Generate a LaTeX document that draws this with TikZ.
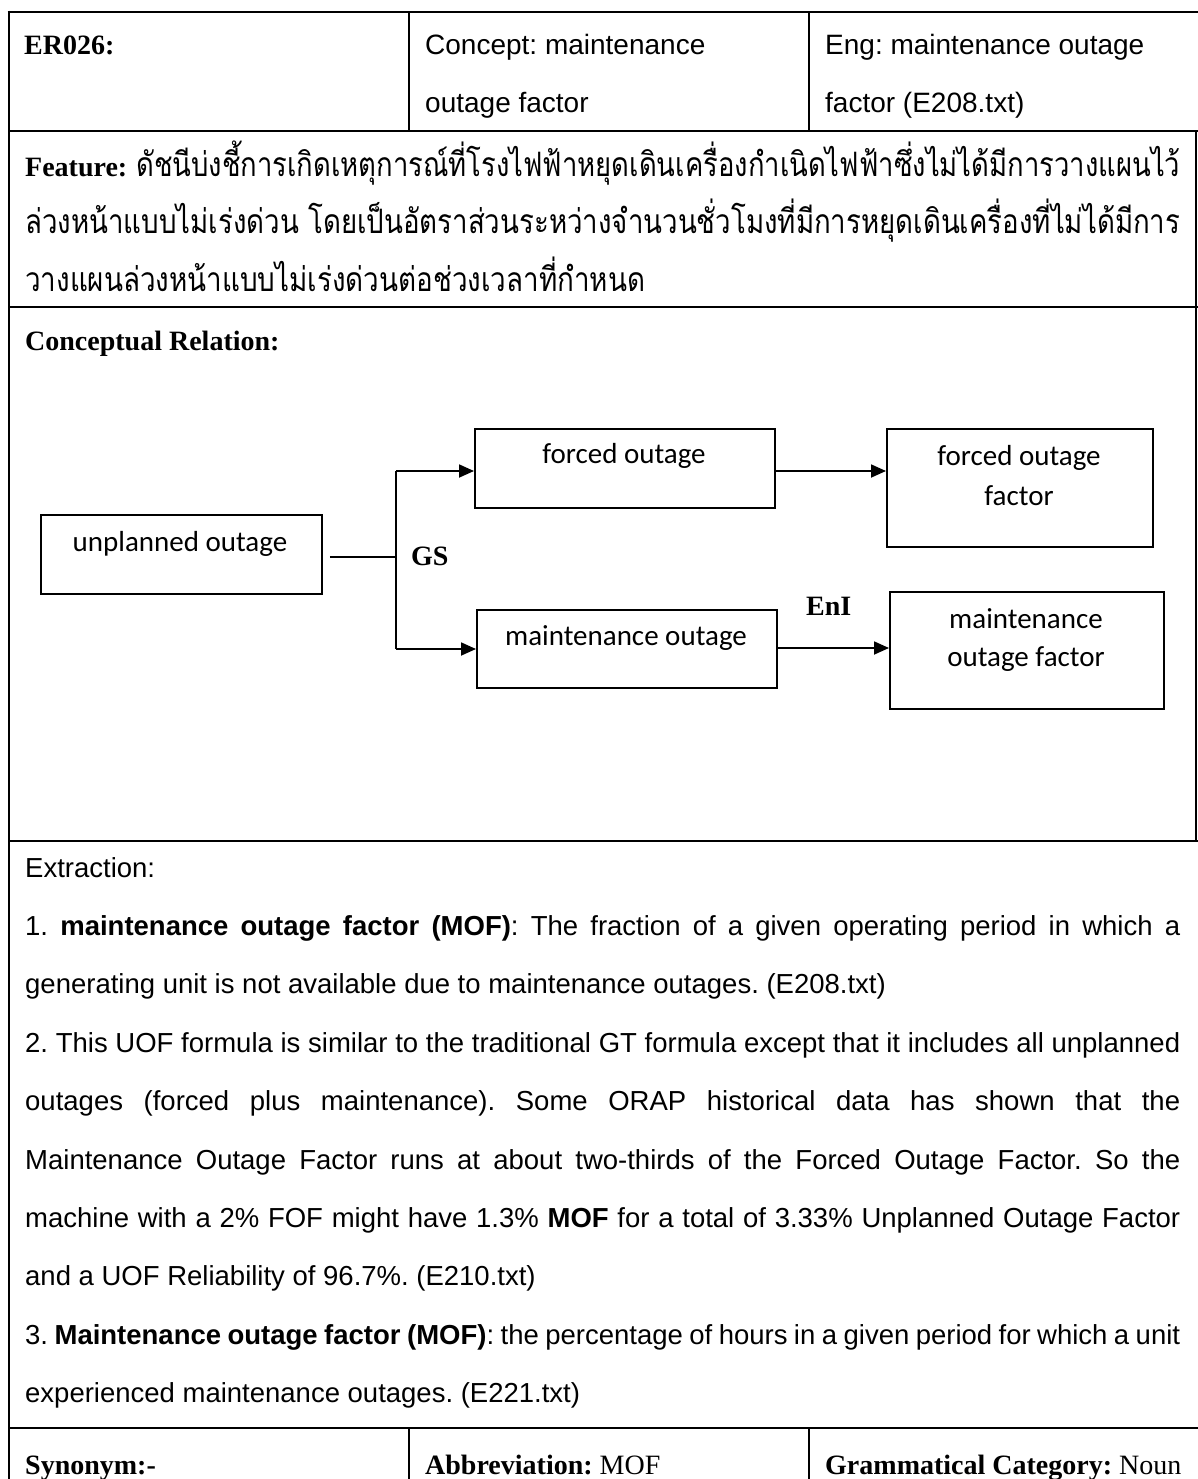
\documentclass[tikz,border=0pt]{standalone}
\usepackage{fontspec}
\usepackage{graphicx}
\usetikzlibrary{arrows.meta,calc}
\setmainfont{Liberation Serif}
\newfontfamily\arialfont{Liberation Sans}
\newfontfamily\calfont{Carlito}
\newfontfamily\thaifont[Script=Thai]{Loma}
\frenchspacing

\begin{document}
\begin{tikzpicture}[x=1pt,y=-1pt,
  rule/.style={line width=2.6pt},
  colrule/.style={line width=2pt},
  hdr/.style={anchor=base west, inner sep=0pt, font=\fontsize{28}{34}\selectfont\bfseries},
  body/.style={anchor=base west, inner sep=0pt, font=\arialfont\fontsize{27.5}{34}\selectfont},
  head/.style={anchor=base west, inner sep=0pt, font=\arialfont\fontsize{28}{34}\selectfont},
  thai/.style={anchor=base west, inner sep=0pt, font=\thaifont\fontsize{30}{36}\selectfont},
  cbox/.style={draw, line width=1.8pt, anchor=north west, inner sep=0pt},
  ctext/.style={anchor=base, inner sep=0pt, font=\calfont\fontsize{29}{34}\selectfont},
  link/.style={line width=1.8pt},
  arr/.style={link, -{Triangle[length=15pt,width=13pt]}},
  rel/.style={anchor=base west, inner sep=0pt, font=\fontsize{28}{34}\selectfont\bfseries}
]
\useasboundingbox (0,0) rectangle (1198,1479);

% table rules
\draw[rule] (7.7,12) -- (1198,12);
\draw[rule] (9,10.7) -- (9,1479);
\draw[rule] (9,131) -- (1198,131);
\draw[rule] (9,307) -- (1198,307);
\draw[rule] (9,841) -- (1198,841);
\draw[rule] (9,1428) -- (1198,1428);
\draw[rule] (1196,131) -- (1196,841);
\draw[colrule] (409,12) -- (409,131);
\draw[colrule] (809,12) -- (809,131);
\draw[colrule] (409,1428) -- (409,1479);
\draw[colrule] (809,1428) -- (809,1479);

% header row
\node[hdr] (id) at (24,55) {ER026:};
\node[head] (concept1) at (425,55) {Concept: maintenance};
\node[head] (concept2) at (425,113) {outage factor};
\node[head] (eng1) at (825,55) {Eng: maintenance outage};
\node[head] (eng2) at (825,113) {factor (E208.txt)};

% feature row
\node[hdr] (feat) at (25,177) {Feature:};
\node[thai] (th1) at (136,177) {\resizebox{1044pt}{1.12\height}{ดัชนีบ่งชี้การเกิดเหตุการณ์ที่โรงไฟฟ้าหยุดเดินเครื่องกำเนิดไฟฟ้าซึ่งไม่ได้มีการวางแผนไว้}};
\node[thai] (th2) at (25,234) {\resizebox{1155pt}{1.12\height}{ล่วงหน้าแบบไม่เร่งด่วน โดยเป็นอัตราส่วนระหว่างจำนวนชั่วโมงที่มีการหยุดเดินเครื่องที่ไม่ได้มีการ}};
\node[thai] (th3) at (25,291) {\resizebox{620pt}{1.12\height}{วางแผนล่วงหน้าแบบไม่เร่งด่วนต่อช่วงเวลาที่กำหนด}};

% conceptual relation diagram
\node[hdr] (crel) at (25,350) {Conceptual Relation:};

\node[cbox, minimum width=281pt, minimum height=79pt] (uo) at (40,514) {};
\node[cbox, minimum width=300pt, minimum height=79pt] (fo) at (474,428) {};
\node[cbox, minimum width=300pt, minimum height=78pt] (mo) at (476,609) {};
\node[cbox, minimum width=266pt, minimum height=118pt] (fof) at (886,428) {};
\node[cbox, minimum width=274pt, minimum height=117pt] (mof) at (889,591) {};

\node[ctext] (uot) at (180,551) {unplanned outage};
\node[ctext] (fot) at (624,463) {forced outage};
\node[ctext] (mot) at (626,645) {maintenance outage};
\node[ctext] (foft1) at (1019,465) {forced outage};
\node[ctext] (foft2) at (1019,505) {factor};
\node[ctext] (moft1) at (1026,628) {maintenance};
\node[ctext] (moft2) at (1026,666) {outage factor};

\coordinate (j) at (396,557);
\coordinate (jt) at (396,471);
\coordinate (jb) at (396,649);
\draw[link] ([xshift=7pt]j -| uo.east) -- (j);
\draw[link] (jt) -- (jb);
\draw[arr] (jt) -- (jt -| fo.west);
\draw[arr] (jb) -- (jb -| mo.west);
\draw[arr] (jt -| fo.east) -- (jt -| fof.west);
\draw[arr] ([yshift=1pt]jb -| mo.east) -- ([yshift=1pt]jb -| mof.west);

\node[rel] (gs) at (411,565) {GS};
\node[rel] (eni) at (806,615) {EnI};

% extraction row
\node[body] (ex0) at (25,877) {Extraction:};
\node[body] (ex1) at (25,935.4) {\makebox[1155pt][s]{1. \textbf{maintenance outage factor (MOF)}: The fraction of a given operating period in which a}};
\node[body] (ex2) at (25,993.8) {generating unit is not available due to maintenance outages. (E208.txt)};
\node[body] (ex3) at (25,1052.2) {\makebox[1155pt][s]{2. This UOF formula is similar to the traditional GT formula except that it includes all unplanned}};
\node[body] (ex4) at (25,1110.6) {\makebox[1155pt][s]{outages (forced plus maintenance). Some ORAP historical data has shown that the}};
\node[body] (ex5) at (25,1169) {\makebox[1155pt][s]{Maintenance Outage Factor runs at about two-thirds of the Forced Outage Factor. So the}};
\node[body] (ex6) at (25,1227.4) {\makebox[1155pt][s]{machine with a 2\% FOF might have 1.3\% \textbf{MOF} for a total of 3.33\% Unplanned Outage Factor}};
\node[body] (ex7) at (25,1285.8) {and a UOF Reliability of 96.7\%. (E210.txt)};
\node[body] (ex8) at (25,1344.2) {\makebox[1155pt][s]{3. \textbf{Maintenance outage factor (MOF)}: the percentage of hours in a given period for which a unit}};
\node[body] (ex9) at (25,1402.6) {experienced maintenance outages. (E221.txt)};

% bottom row
\node[hdr] (syn) at (25,1474) {Synonym:-};
\node[hdr] (abbr) at (425,1474) {Abbreviation: \mdseries MOF};
\node[hdr] (gram) at (825,1474) {Grammatical Category: \mdseries Noun};
\end{tikzpicture}
\end{document}
